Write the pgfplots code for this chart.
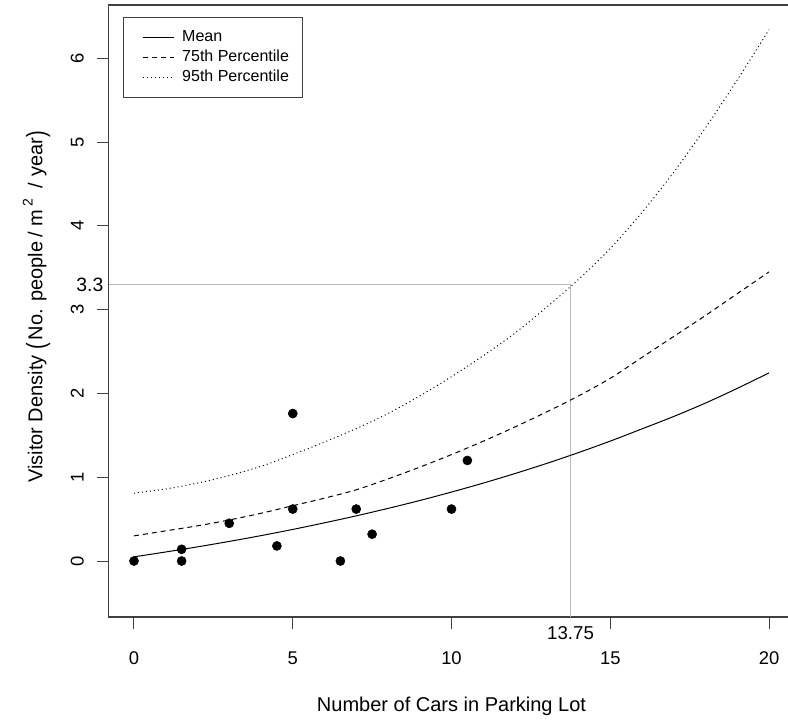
\documentclass[border=0pt]{standalone}
\usepackage{pgfplots}
\usepackage{pgfplotstable}
\usepackage{graphicx}
\pgfplotsset{compat=1.18}
\usepackage{fontspec}
\setmainfont{Liberation Sans}

\pgfplotstableread{
x  mean  p75  p95
0  0.050 0.30 0.81
1  0.108 0.36 0.86
2  0.169 0.42 0.93
3  0.234 0.49 1.02
4  0.303 0.57 1.13
5  0.377 0.66 1.27
6  0.456 0.75 1.42
7  0.539 0.85 1.58
8  0.628 0.98 1.76
9  0.722 1.12 1.97
10 0.823 1.27 2.20
11 0.930 1.43 2.45
12 1.044 1.60 2.72
13 1.165 1.78 3.03
14 1.294 1.97 3.36
15 1.431 2.18 3.73
16 1.577 2.43 4.16
17 1.725 2.68 4.64
18 1.885 2.93 5.17
19 2.060 3.19 5.74
20 2.245 3.45 6.34
}\curves

\pgfplotstableread{
x    y
0    0.00
1.5  0.14
1.5  0.00
3    0.45
4.5  0.18
5    1.76
5    0.62
6.5  0.00
7    0.62
7.5  0.32
10   0.62
10.5 1.20
}\points

\newcommand{\tallparen}[1]{\raisebox{-0.12em}{\scalebox{1}[1.3]{#1}}}

\begin{document}
\begin{tikzpicture}
\begin{axis}[
  scale only axis,
  width=514.35pt, height=459pt,
  xmin=-0.8, xmax=20.8, ymin=-0.668, ymax=6.635,
  clip=false,
  axis line style={black!75, line width=0.9pt},
  xtick={0,5,10,15,20}, ytick={0,1,2,3,4,5,6},
  xtick pos=left, ytick pos=left,
  tick align=outside, major tick length=9pt,
  tick style={black!75, line width=0.75pt},
  /pgf/number format/assume math mode=true,
  tick label style={font=\fontsize{13.8}{16}\selectfont, black},
  xticklabel style={anchor=base, yshift=-26.5pt},
  yticklabel style={xshift=-9.75pt, rotate=90, anchor=base},
  xlabel={Number of Cars in Parking Lot},
  ylabel={Visitor Density \tallparen{(}\hspace{2pt}No. people\hspace{3pt}/\hspace{4pt}m\hspace{3pt}\raisebox{0.15em}{\textsuperscript{2}}\hspace{7pt}/\hspace{5pt}year\tallparen{)}},
  label style={font=\fontsize{15}{18}\selectfont},
  xlabel style={at={(axis description cs:0.5,-0.1552)}, anchor=base},
  ylabel style={at={(axis description cs:-0.0964,0.507)}, anchor=base},
  legend style={at={(axis description cs:0.0206,0.98)}, anchor=north west,
    draw=black!75, line width=0.75pt,
    font=\fontsize{12}{14}\selectfont,
    inner xsep=9pt, inner ysep=7pt,
    nodes={inner xsep=1.5pt, inner ysep=1.5pt, text height=9.2pt, text depth=3pt},
    cells={anchor=west}, column sep=4.5pt, row sep=0pt},
  legend cell align=left,
  legend image code/.code={\path (-5.25pt,0pt); \draw[#1] (0pt,0pt) -- (23.25pt,0pt);},
]
\addplot[black!27, line width=0.75pt, forget plot] coordinates {(-0.8,3.3) (13.75,3.3) (13.75,-0.668)};
\addplot[black, line width=0.75pt, smooth] table[x=x, y=mean] {\curves};
\addlegendentry{Mean}
\addplot[black, line width=0.75pt, smooth, dash pattern=on 3.75pt off 3pt] table[x=x, y=p75] {\curves};
\addlegendentry{75th Percentile}
\addplot[black, line width=0.75pt, smooth, dash pattern=on 0.75pt off 2.25pt] table[x=x, y=p95] {\curves};
\addlegendentry{95th Percentile}
\addplot[only marks, mark=*, mark size=3.4pt, black, forget plot] table[x=x, y=y] {\points};
\node[anchor=east, inner sep=0pt, xshift=-3.75pt, font=\fontsize{14.5}{17}\selectfont] at (axis cs:-0.8,3.3) {3.3};
\node[anchor=north, inner sep=0pt, yshift=-6.75pt, font=\fontsize{14}{17}\selectfont] at (axis cs:13.75,-0.668) {13.75};
\end{axis}
\pgfresetboundingbox
\path[use as bounding box] ([xshift=-81.45pt,yshift=-78pt]current axis.south west) rectangle ([xshift=509.55pt,yshift=3.75pt]current axis.north west);
\end{tikzpicture}
\end{document}
